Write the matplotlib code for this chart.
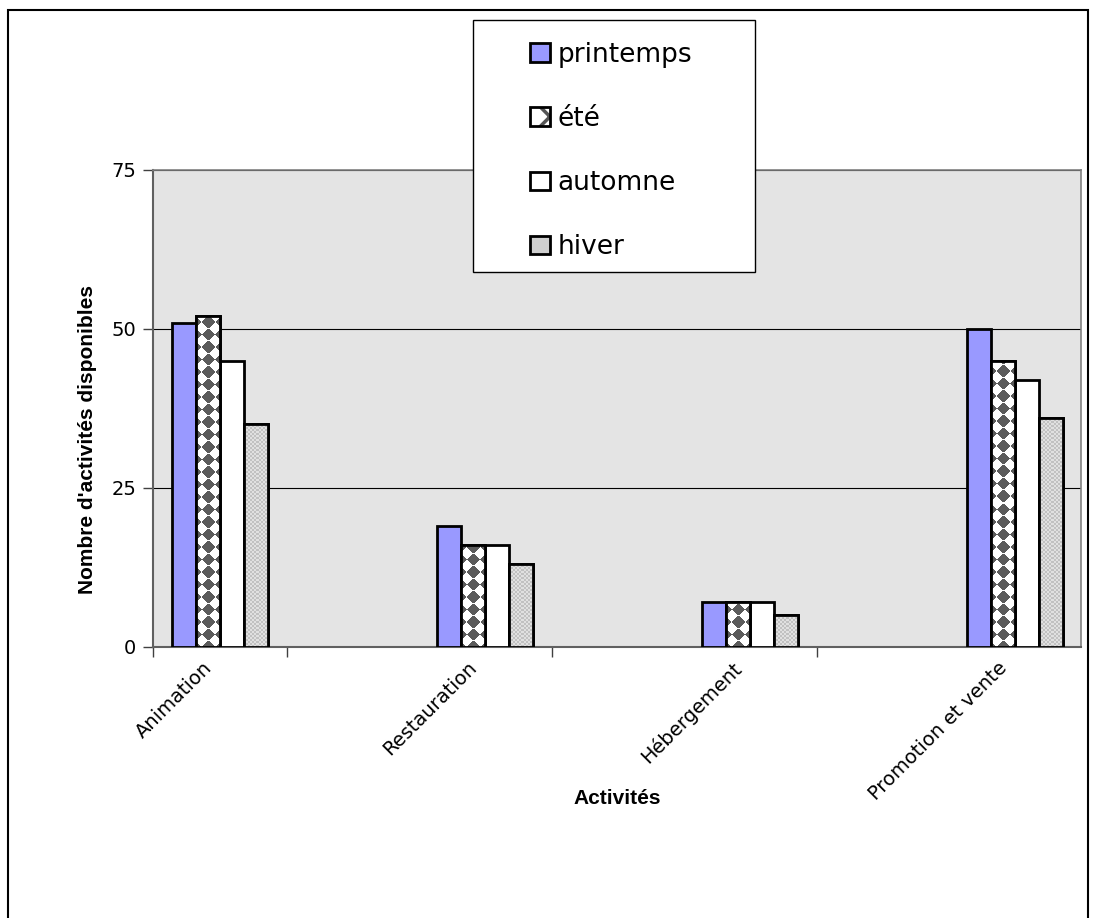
import numpy as np
import matplotlib
matplotlib.use('Agg')
import matplotlib.pyplot as plt
from matplotlib.patches import Rectangle, Patch
from matplotlib.transforms import ScaledTranslation

categories = ['Animation', 'Restauration', 'Hébergement', 'Promotion et vente']
seasons = ['printemps', 'été', 'automne', 'hiver']
printemps = [51, 19, 7, 50]
ete = [52, 16, 7, 45]
automne = [45, 16, 7, 42]
hiver = [35, 13, 5, 36]
series = [printemps, ete, automne, hiver]

faces = ['#9999ff', 'white', 'white', '#d6d6d6']

plt.rcParams['font.family'] = ['DejaVu Sans']
plt.rcParams['hatch.linewidth'] = 2.5


def diamond_tile(wpx, hpx, d=12.5):
    # rotated checkerboard, dark diamond column centred in the bar
    X, Y = np.meshgrid(np.arange(wpx) - wpx / 2 + 0.5, np.arange(hpx) + 0.5)
    u = np.floor((X + Y) / d + 0.5)
    v = np.floor((X - Y) / d + 0.5)
    dark = ((u + v) % 2 == 0)
    img = np.ones((hpx, wpx, 3))
    img[dark] = 0.36
    return img


def fine_tile(wpx, hpx):
    X, Y = np.meshgrid(np.arange(wpx), np.arange(hpx))
    chk = ((X // 2 + Y // 2) % 2 == 0)
    img = np.full((hpx, wpx, 3), 0.88)
    img[chk] = 0.76
    return img


fig = plt.figure(figsize=(10.96, 9.18), dpi=100)
ax = fig.add_axes([153/1096, 1-647/918, 928/1096, 477/918])
ax.set_facecolor('#e4e4e4')

x = np.arange(len(categories))
w = 0.0906
xlim = (-0.253, 3.249)
ylim = (0, 75)
px_per_x = 928 / (xlim[1] - xlim[0])
px_per_y = 477 / (ylim[1] - ylim[0])
for i, vals in enumerate(series):
    pos = x + (i - 1.5) * w
    bars = ax.bar(pos, vals, w, color=faces[i], edgecolor='black', linewidth=2, zorder=3)
    if i in (1, 3):
        for b in bars:
            bx, bw, bh = b.get_x(), b.get_width(), b.get_height()
            wpx = max(int(round(bw * px_per_x)), 1)
            hpx = max(int(round(bh * px_per_y)), 1)
            tile = diamond_tile(wpx, hpx) if i == 1 else fine_tile(wpx, hpx)
            im = ax.imshow(tile, extent=(bx, bx + bw, 0, bh), origin='lower',
                           aspect='auto', interpolation='nearest', zorder=3.5)
            im.set_clip_path(b)
        ax.bar(pos, vals, w, fill=False, edgecolor='black', linewidth=2, zorder=5)

ax.set_xlim(*xlim)
ax.set_ylim(*ylim)
ax.set_yticks([0, 25, 50, 75])
ax.tick_params(axis='y', labelsize=14, length=7, color='#404040', width=1, pad=5)
ax.yaxis.grid(True, color='black', linewidth=0.8, zorder=1)
ax.set_axisbelow(True)

ax.set_xticks(x)
ax.set_xticklabels(categories, rotation=45, ha='right', va='top',
                   rotation_mode='anchor', fontsize=14)
ax.tick_params(axis='x', length=0, pad=8)
for lab in ax.get_xticklabels():
    lab.set_transform(lab.get_transform() + ScaledTranslation(-18/100, 0, fig.dpi_scale_trans))
ax.set_xticks([-0.253, 0.253, 1.253, 2.253], minor=True)
ax.tick_params(axis='x', which='minor', length=7, color='#404040', width=1)

for s in ['top', 'right']:
    ax.spines[s].set_color('#808080')
    ax.spines[s].set_linewidth(1.2)
for s in ['left', 'bottom']:
    ax.spines[s].set_color('#606060')
    ax.spines[s].set_linewidth(1.5)

fig.text(88/1096, 1-440/918, "Nombre d'activités disponibles", fontsize=15,
         fontweight='bold', family='Liberation Sans', rotation=90,
         ha='center', va='center')
fig.text(617/1096, 1-798/918, 'Activités', fontsize=15, fontweight='bold',
         family='Liberation Sans', ha='center', va='center')

# legend box
fig.patches.append(Rectangle((473/1096, 1-272/918), 282/1096, 252/918,
                             transform=fig.transFigure, facecolor='white',
                             edgecolor='black', linewidth=1, zorder=4))
h_ete = (Patch(facecolor='white', edgecolor='#555555', linewidth=0, hatch='x'),
         Patch(facecolor='none', edgecolor='black', linewidth=2))
handles = [Patch(facecolor='#9999ff', edgecolor='black', linewidth=2),
           h_ete,
           Patch(facecolor='white', edgecolor='black', linewidth=2),
           Patch(facecolor='#cfcfcf', edgecolor='black', linewidth=2)]
fig.legend(handles, seasons, loc='center', bbox_to_anchor=(611/1096, 1-151/918),
           frameon=False, fontsize=19, handlelength=0.75, handleheight=0.7,
           handletextpad=0.3, labelspacing=1.45, borderpad=0)

# outer border
fig.patches.append(Rectangle((8/1096, -0.01), 1080/1096, 1-10/918+0.01,
                             transform=fig.transFigure, fill=False,
                             edgecolor='black', linewidth=1.5, zorder=0))

fig.savefig('out.png', dpi=100)
